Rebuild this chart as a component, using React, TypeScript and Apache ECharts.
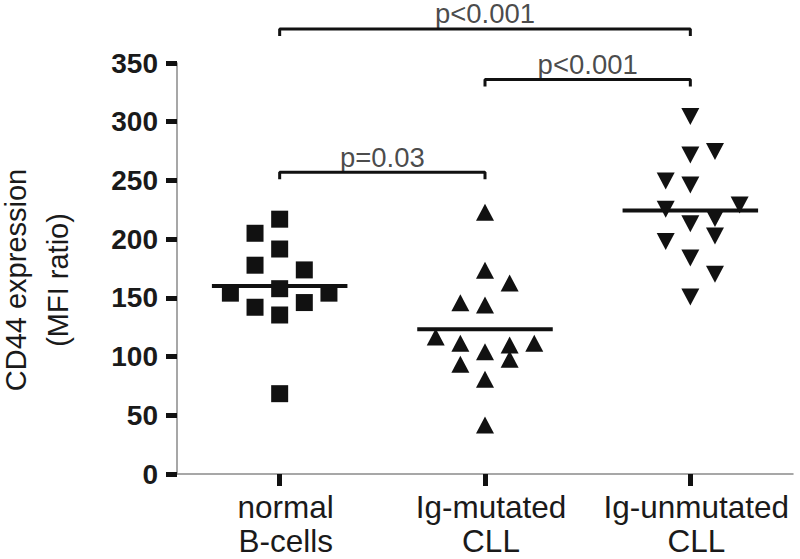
import React, { useEffect, useRef } from "react";
import * as echarts from "echarts";

const categories = ["normal\nB-cells", "Ig-mutated\nCLL", "Ig-unmutated\nCLL"];
const yTicks = [0, 50, 100, 150, 200, 250, 300, 350];

// values (MFI ratio) with horizontal jitter offsets (category units)
const normalValues = [217, 205, 191.6, 177.8, 173.8, 154, 157.8, 154, 142, 146, 135.4, 68.4];
const normalJitter = [0, -0.12, 0, -0.12, 0.12, -0.24, 0, 0.24, -0.12, 0.12, 0, 0];

const mutatedValues = [222.9, 173.6, 162.7, 145.8, 144, 116.7, 111.3, 111.3, 109.9, 104.2, 97.7, 93.4, 80.7, 41.7];
const mutatedJitter = [0, 0, 0.12, -0.12, 0, -0.24, -0.12, 0.24, 0.12, 0, 0.12, -0.12, 0, 0];

const unmutatedValues = [304.4, 271.7, 274.6, 249.6, 246.2, 229.1, 225.4, 217.5, 213.2, 202.7, 197.9, 184, 170.1, 150.8];
const unmutatedJitter = [0, 0, 0.12, -0.12, 0, 0.24, -0.12, 0.12, 0, 0.12, -0.12, 0, 0.12, 0];

const medians = [160, 123.2, 224.3];

const comparisons = [
  { from: 1, to: 3, y: 379, label: "p<0.001" },
  { from: 2, to: 3, y: 336, label: "p<0.001" },
  { from: 1, to: 2, y: 257, label: "p=0.03" },
];

const FONT = "'Liberation Sans', Arial, Helvetica, sans-serif";
const INK = "#111";
const TEXT = "#1a1a1a";

export default function App() {
  const ref = useRef<HTMLDivElement>(null);

  useEffect(() => {
    if (!ref.current) return;
    const chart = echarts.init(ref.current, undefined, { renderer: "svg" });

    const pts = (vals: number[], jit: number[], pos: number) =>
      vals.map((v, i) => [pos + jit[i], v]);

    const medianHalf = 0.33;
    const tick = 6;

    const series: any[] = [];
    medians.forEach((m, i) => {
      series.push({
        type: "line",
        name: "median " + (i + 1),
        data: [
          [i + 1 - medianHalf, m],
          [i + 1 + medianHalf, m],
        ],
        symbol: "none",
        lineStyle: { color: INK, width: 4 },
        z: 3,
        silent: true,
      });
    });
    series.push(
      {
        type: "scatter",
        name: "normal B-cells",
        data: pts(normalValues, normalJitter, 1),
        symbol: "rect",
        symbolSize: 17,
        itemStyle: { color: INK, opacity: 1 },
        z: 4,
      },
      {
        type: "scatter",
        name: "Ig-mutated CLL",
        data: pts(mutatedValues, mutatedJitter, 2),
        symbol: "triangle",
        symbolSize: [18, 17],
        itemStyle: { color: INK, opacity: 1 },
        z: 4,
      },
      {
        type: "scatter",
        name: "Ig-unmutated CLL",
        data: pts(unmutatedValues, unmutatedJitter, 3),
        symbol: "triangle",
        symbolRotate: 180,
        symbolSize: [18, 17],
        itemStyle: { color: INK, opacity: 1 },
        z: 4,
      }
    );
    comparisons.forEach((c, i) => {
      series.push({
        type: "line",
        name: "bracket " + (i + 1),
        data: [
          [c.from, c.y - tick],
          [c.from, c.y],
          [c.to, c.y],
          [c.to, c.y - tick],
        ],
        symbol: "none",
        clip: false,
        lineStyle: { color: INK, width: 3 },
        silent: true,
      });
    });
    series.push({
      type: "scatter",
      name: "p-values",
      data: comparisons.map((c) => [(c.from + c.to) / 2, c.y, c.label]),
      symbolSize: 0,
      clip: false,
      silent: true,
      label: {
        show: true,
        position: "top",
        distance: 2,
        formatter: (p: any) => p.data[2],
        fontFamily: FONT,
        fontSize: 27.5,
        lineHeight: 26,
        color: TEXT,
      },
    });

    chart.setOption({
      animation: false,
      backgroundColor: "#fff",
      grid: { left: 177, right: 7, top: 63, bottom: 85, containLabel: false },
      xAxis: {
        type: "value",
        min: 0.5,
        max: 3.5,
        splitLine: { show: false },
        axisLine: { show: true, lineStyle: { color: "#8a8a8a", width: 1.5 } },
        axisTick: {
          show: true,
          customValues: [1, 2, 3],
          length: 12,
          lineStyle: { color: INK, width: 5 },
        },
        axisLabel: {
          customValues: [1, 2, 3],
          formatter: (v: number) => categories[Math.round(v) - 1] ?? "",
          fontFamily: FONT,
          fontSize: 31.5,
          lineHeight: 34,
          color: TEXT,
          margin: 16,
          padding: [0, 0, 0, 12],
        },
      },
      yAxis: {
        type: "value",
        min: 0,
        max: 350,
        interval: 50,
        splitLine: { show: false },
        axisLine: { show: true, lineStyle: { color: "#8a8a8a", width: 1.5 } },
        axisTick: { show: true, length: 11, lineStyle: { color: INK, width: 5 } },
        axisLabel: {
          fontFamily: FONT,
          fontSize: 28,
          fontWeight: "bold",
          color: TEXT,
          margin: 19,
          formatter: (v: number) => (yTicks.includes(v) ? String(v) : ""),
        },
      },
      graphic: [
        {
          type: "text",
          x: 37,
          y: 280,
          rotation: Math.PI / 2,
          style: {
            text: "CD44 expression\n(MFI ratio)",
            font: "29px " + FONT,
            fill: TEXT,
            align: "center",
            verticalAlign: "middle",
            lineHeight: 42,
          },
        },
      ],
      series,
    });

    return () => chart.dispose();
  }, []);

  return (
    <div
      ref={ref}
      style={{ position: "fixed", left: 0, top: 0, width: 800, height: 559 }}
    />
  );
}
